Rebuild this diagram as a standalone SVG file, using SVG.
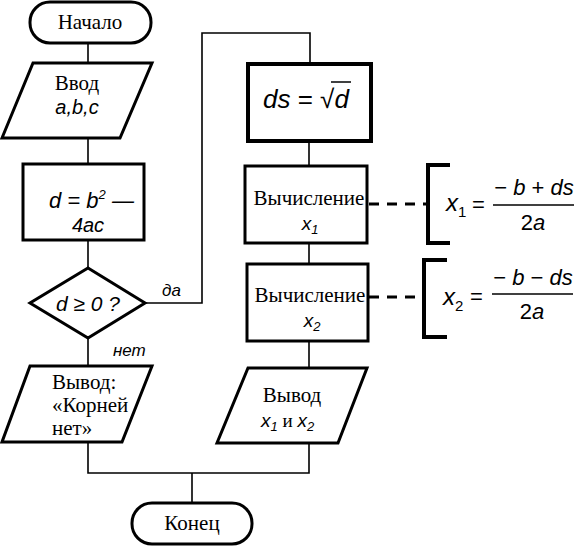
<svg xmlns="http://www.w3.org/2000/svg" width="581" height="546" viewBox="0 0 581 546">
<style>
.sh{fill:#fff;stroke:#000;stroke-width:3}
.thick{fill:#fff;stroke:#000;stroke-width:4}
.cn{fill:none;stroke:#000;stroke-width:1.6}
.br{fill:none;stroke:#000;stroke-width:4}
.dash{fill:none;stroke:#000;stroke-width:3;stroke-dasharray:10,8}
.t{font-family:"Liberation Serif",serif;font-size:21px;fill:#000}
.m{font-family:"Liberation Sans",sans-serif;font-style:italic;fill:#000}
.f{font-family:"Liberation Sans",sans-serif;fill:#000}
</style>
<rect width="581" height="546" fill="#fff"/>
<g id="connectors">
<path class="cn" d="M88 43V63M88 138V164M88 240V268M88 338V366M88 442V473H309V443M192 473V503"/>
<path class="cn" d="M145 303H202V33H310V64M309 141V166M309 243V264M309 341V368"/>
<text class="m" x="162" y="296" font-size="17">да</text>
<text class="m" x="113" y="356" font-size="17">нет</text>
</g>
<g id="start">
<rect class="sh" x="30" y="2" width="121" height="41" rx="20"/>
<text class="t" x="90" y="29" text-anchor="middle">Начало</text>
</g>
<g id="input">
<polygon class="sh" points="33,63 152,63 120,138 2,138"/>
<text class="t" x="77" y="90" text-anchor="middle">Ввод</text>
<text class="m" x="77" y="114" font-size="20" text-anchor="middle">a,b,c</text>
</g>
<g id="calc-d">
<rect class="sh" x="23" y="164" width="121" height="76"/>
<text class="m" x="49" y="208" font-size="22">d = b<tspan font-size="13" dy="-9">2</tspan><tspan dy="9"> —</tspan></text>
<text class="m" x="88" y="232" font-size="20" text-anchor="middle">4ac</text>
</g>
<g id="decision">
<polygon class="sh" points="88,268 145,303 88,338 30,303"/>
<text class="m" x="88" y="311" font-size="21" text-anchor="middle">d ≥ 0 ?</text>
</g>
<g id="out-none">
<polygon class="sh" points="30,366 152,366 122,442 2,442"/>
<text class="t" x="52" y="389">Вывод:</text>
<text class="t" x="52" y="412">«Корней</text>
<text class="t" x="52" y="435">нет»</text>
</g>
<g id="calc-ds">
<rect class="thick" x="248" y="64" width="123" height="77"/>
<text class="m" x="263" y="108" font-size="26">ds<tspan font-style="normal"> = √</tspan>d</text>
<line x1="331" y1="82" x2="351" y2="82" stroke="#000" stroke-width="1.5"/>
</g>
<g id="calc-x1">
<rect class="sh" x="245" y="166" width="122" height="77"/>
<text class="t" x="309" y="205" text-anchor="middle">Вычисление</text>
<text class="m" x="310" y="230" font-size="19" text-anchor="middle">x<tspan font-size="13" dy="4">1</tspan></text>
</g>
<g id="calc-x2">
<rect class="sh" x="247" y="264" width="121" height="77"/>
<text class="t" x="310" y="302" text-anchor="middle">Вычисление</text>
<text class="m" x="312" y="327" font-size="19" text-anchor="middle">x<tspan font-size="13" dy="4">2</tspan></text>
</g>
<g id="out-roots">
<polygon class="sh" points="248,368 367,368 338,443 217,443"/>
<text class="t" x="292" y="402" text-anchor="middle">Вывод</text>
<text class="m" x="261" y="427" font-size="19">x<tspan font-size="13" dy="4">1</tspan><tspan dy="-4" font-style="normal" font-family="Liberation Serif" font-size="19"> и </tspan><tspan>x</tspan><tspan font-size="13" dy="4">2</tspan></text>
</g>
<g id="note-x1">
<path class="dash" d="M369 204H428"/>
<path class="br" d="M450 165H428V243H450"/>
<text class="m" x="446" y="211" font-size="24">x<tspan font-size="15" font-style="normal" dy="6">1</tspan></text>
<text class="f" x="472" y="212" font-size="22">=</text>
<line x1="493" y1="205" x2="574" y2="205" stroke="#000" stroke-width="1.5"/>
<text class="m" x="534" y="195" font-size="22" text-anchor="middle"><tspan font-style="normal">−</tspan> b <tspan font-style="normal">+</tspan> ds</text>
<text class="m" x="533" y="230" font-size="22" text-anchor="middle"><tspan font-style="normal">2</tspan>a</text>
</g>
<g id="note-x2">
<path class="dash" d="M369 297H424"/>
<path class="br" d="M447 260H424V337H447"/>
<text class="m" x="443" y="305" font-size="24">x<tspan font-size="15" font-style="normal" dy="6">2</tspan></text>
<text class="f" x="470" y="304" font-size="22">=</text>
<line x1="492" y1="294" x2="573" y2="294" stroke="#000" stroke-width="1.5"/>
<text class="m" x="533" y="285" font-size="22" text-anchor="middle"><tspan font-style="normal">−</tspan> b <tspan font-style="normal">−</tspan> ds</text>
<text class="m" x="532" y="319" font-size="22" text-anchor="middle"><tspan font-style="normal">2</tspan>a</text>
</g>
<g id="end">
<rect class="sh" x="132" y="503" width="120" height="41" rx="20"/>
<text class="t" x="192" y="530" text-anchor="middle">Конец</text>
</g>
</svg>
